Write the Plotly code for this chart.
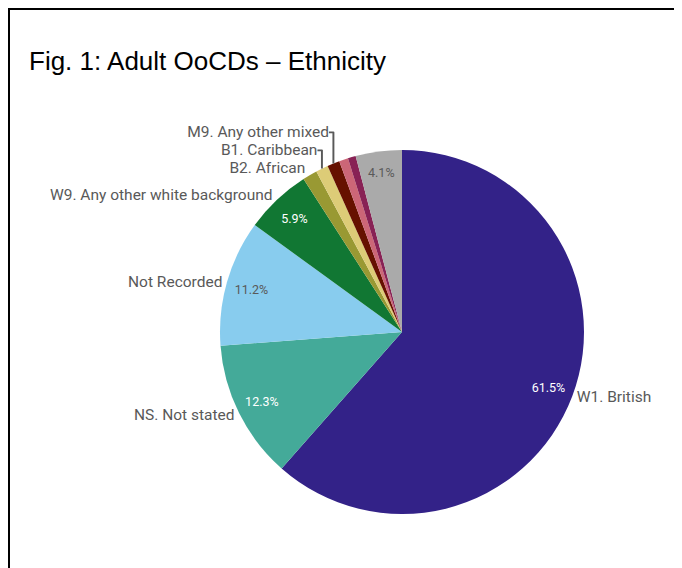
import plotly.graph_objects as go

labels = ["W1. British", "NS. Not stated", "Not Recorded", "W9. Any other white background",
          "B2. African", "B1. Caribbean", "M9. Any other mixed", "Other A", "Other B", "Others"]
values = [61.5, 12.3, 11.2, 5.9, 1.3, 1.1, 1.1, 0.8, 0.7, 4.1]
colors = ["#332288", "#44AA99", "#88CCEE", "#117733", "#999933", "#DDCC77",
          "#661100", "#CC6677", "#882255", "#AAAAAA"]
show_label = [True, True, True, True, True, True, True, False, False, False]
show_pct = [True, True, True, True, False, False, False, False, False, True]
pct_colors = ["#FFFFFF", "#FFFFFF", "#595959", "#FFFFFF", "#595959", "#595959",
              "#595959", "#595959", "#595959", "#595959"]

W, H = 682, 568
# page body adds an 8px offset, so figure coordinates are shifted by -8
cx, cy, R = 394, 324, 182
dom_x = [(cx - R) / W, (cx + R) / W]
dom_y = [(H - cy - R) / H, (H - cy + R) / H]

fig = go.Figure()
# coloured slices with outside category labels
fig.add_trace(go.Pie(
    labels=labels, values=values, sort=False, direction="clockwise", rotation=0,
    marker=dict(colors=colors, line=dict(width=0)),
    text=[l if s else "" for l, s in zip(labels, show_label)],
    textinfo="text",
    textposition=["outside" if s else "none" for s in show_label],
    outsidetextfont=dict(family="Roboto", size=15.5, color="#595959"),
    domain=dict(x=dom_x, y=dom_y), automargin=False, showlegend=False,
    hoverinfo="label+percent",
))
# transparent ring carrying the percentage labels near the rim
fig.add_trace(go.Pie(
    labels=labels, values=values, sort=False, direction="clockwise", rotation=0,
    hole=0.72,
    marker=dict(colors=["rgba(0,0,0,0)"] * len(values), line=dict(width=0)),
    text=[f"{v:.1f}%" if s else "" for v, s in zip(values, show_pct)],
    textinfo="text",
    textposition=["inside" if s else "none" for s in show_pct],
    insidetextorientation="horizontal",
    insidetextfont=dict(family="Roboto", size=12.5, color=pct_colors),
    domain=dict(x=dom_x, y=dom_y), automargin=False, showlegend=False,
    hoverinfo="skip",
))

fig.update_layout(
    width=W, height=H,
    margin=dict(l=0, r=0, t=0, b=0),
    paper_bgcolor="white", plot_bgcolor="white",
    title=dict(text="Fig. 1: Adult OoCDs \u2013 Ethnicity",
               font=dict(family="Liberation Sans, Arial", size=26, color="#000000"),
               x=21 / W, xanchor="left", y=1 - 53 / H, yanchor="middle"),
    shapes=[dict(type="rect", xref="paper", yref="paper",
                 x0=1 / W, x1=1.05, y0=-0.05, y1=1 - 1 / H,
                 line=dict(color="black", width=2), fillcolor="rgba(0,0,0,0)")],
)

fig.write_html("out.html")
